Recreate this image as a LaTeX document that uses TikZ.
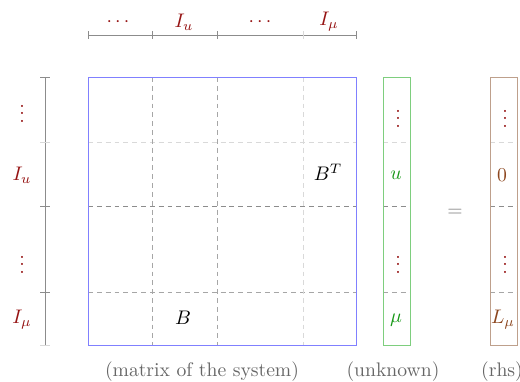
\documentclass[tikz,border=0pt]{standalone}
\usetikzlibrary{positioning}
\definecolor{lblred}{RGB}{150,20,20}
\definecolor{unkgreen}{RGB}{20,150,20}
\definecolor{rhsbrown}{RGB}{140,70,30}
\definecolor{rhsframe}{RGB}{190,160,140}
\begin{document}
\begin{tikzpicture}[x=0.509pt,y=-0.509pt,
	lbl/.style={text=lblred, inner sep=1pt},
	sepdark/.style={dashed, gray!90, dash pattern=on 2.5pt off 2pt},
	sepmid/.style={dashed, gray!70, dash pattern=on 2.5pt off 2pt},
	seplight/.style={dashed, gray!30, dash pattern=on 2.5pt off 2pt},
	ruler/.style={gray!90}]
	\useasboundingbox (0,0) rectangle (520,381);
	% block separators
	\draw [seplight] (88,142) -- (356,142);
	\draw [sepdark] (88,206) -- (356,206);
	\draw [sepmid] (88,292) -- (356,292);
	\draw [sepmid] (152,77) -- (152,345);
	\draw [sepmid] (217,77) -- (217,345);
	\draw [seplight] (303,77) -- (303,345);
	\foreach \x in {383,490} {
		\draw [seplight] (\x,142) -- ++(27,0);
		\draw [sepdark] (\x,206) -- ++(27,0);
		\draw [sepmid] (\x,292) -- ++(27,0);
	}
	% matrix and vectors
	\draw [blue!50] (88,77) rectangle (356,345);
	\draw [green!45!gray!70] (383,77) rectangle (410,345);
	\draw [rhsframe] (490,77) rectangle (517,345);
	% top ruler
	\draw [ruler] (88,35) -- (356,35);
	\foreach \x in {88,152,217,356} \draw [ruler] (\x,31) -- (\x,39);
	\draw [gray!30] (303,31) -- (303,39);
	\node [lbl] (t1) at (118,22) {$\cdots$};
	\node [lbl] (t2) at (184,22) {$I_u$};
	\node [lbl] (t3) at (260,22) {$\cdots$};
	\node [lbl] (t4) at (329,22) {$I_\mu$};
	% left ruler
	\draw [ruler] (45,77) -- (45,345);
	\foreach \y in {77,206,292} \draw [ruler] (40,\y) -- (50,\y);
	\foreach \y in {142,345} \draw [gray!30] (40,\y) -- (50,\y);
	\node [lbl] (l1) at (22,108) {$\vdots$};
	\node [lbl] (l2) at (22,175) {$I_u$};
	\node [lbl] (l3) at (22,259) {$\vdots$};
	\node [lbl] (l4) at (22,320) {$I_\mu$};
	% entries
	\node (BT) at (328,172) {$B^T$};
	\node (B) at (183,318) {$B$};
	\node [lbl] (u1) at (398,113) {$\vdots$};
	\node [text=unkgreen] (u) at (396,175) {$u$};
	\node [lbl] (u3) at (398,259) {$\vdots$};
	\node [text=unkgreen] (mu) at (396,320) {$\mu$};
	\node [lbl] (r1) at (505,113) {$\vdots$};
	\node [text=rhsbrown] (r2) at (502,175) {$0$};
	\node [lbl] (r3) at (505,259) {$\vdots$};
	\node [text=rhsbrown] (r4) at (503,320) {$L_\mu$};
	\node [text=gray] (eq) at (455,213) {$=$};
	% captions
	\node [gray!80!black] (c1) at (202,372) {(matrix of the system)};
	\node [gray!80!black] (c2) at (393,372) {(unknown)};
	\node [gray!80!black] (c3) at (502,372) {(rhs)};
\end{tikzpicture}
\end{document}
